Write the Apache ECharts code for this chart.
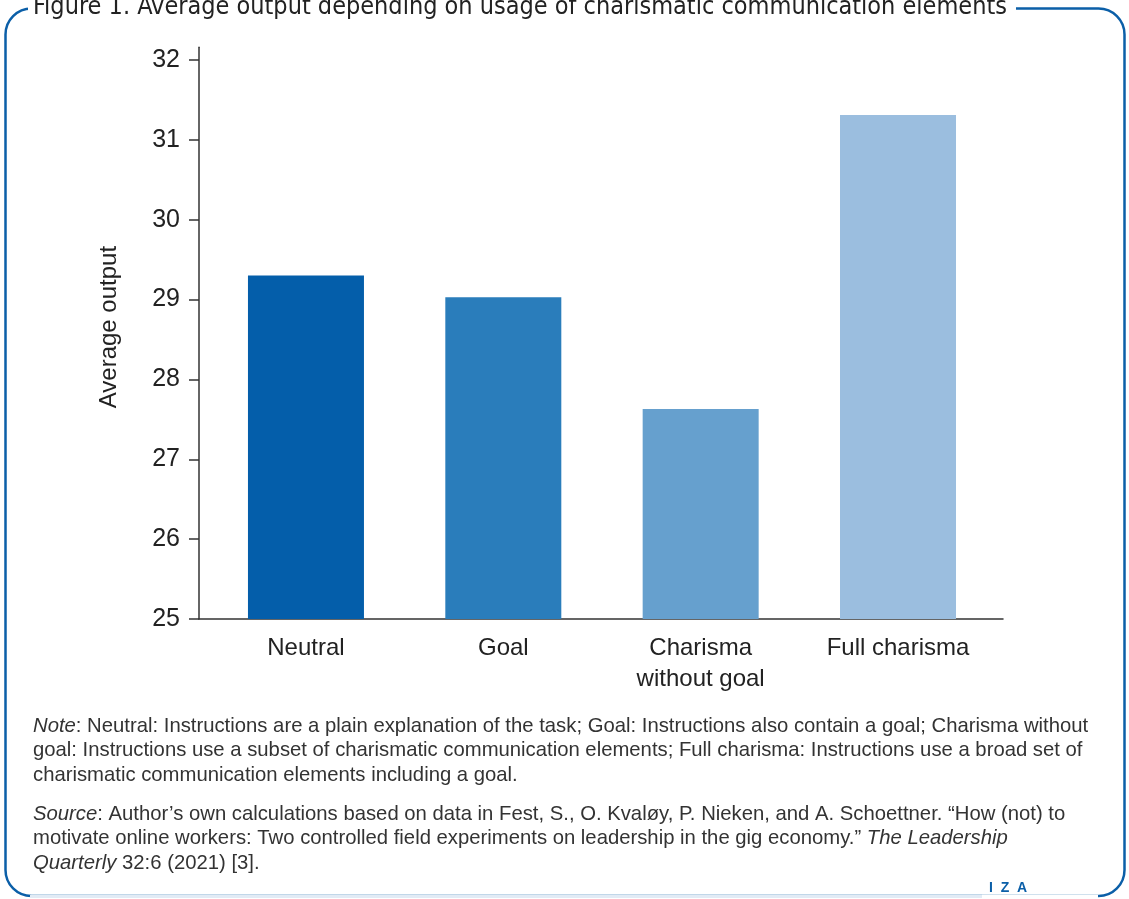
<!DOCTYPE html>
<html><head><meta charset="utf-8">
<script src="https://cdn.jsdelivr.net/npm/echarts@6/dist/echarts.min.js"></script>
<style>html,body{margin:0;padding:0;background:#fff}#c{width:1129px;height:899px}</style>
</head><body><div id="c"></div>
<script>
const categories = ['Neutral', 'Goal', 'Charisma\nwithout goal', 'Full charisma'];
const values = [29.30, 29.03, 27.63, 31.31];
const barColors = ['#045EAA', '#2A7DBB', '#66A0CE', '#9BBEDF'];
const yTicks = [25, 26, 27, 28, 29, 30, 31, 32];
const titleText = 'Figure 1. Average output depending on usage of charismatic communication elements';
const noteLines = [
  '{i|Note}: Neutral: Instructions are a plain explanation of the task; Goal: Instructions also contain a goal; Charisma without',
  'goal: Instructions use a subset of charismatic communication elements; Full charisma: Instructions use a broad set of',
  'charismatic communication elements including a goal.'
];
const sourceLines = [
  '{i|Source}: Author’s own calculations based on data in Fest, S., O. Kvaløy, P. Nieken, and A. Schoettner. “How (not) to',
  'motivate online workers: Two controlled field experiments on leadership in the gig economy.” {i|The Leadership}',
  '{i|Quarterly} 32:6 (2021) [3].'
];

const chart = echarts.init(document.getElementById('c'), null, {renderer: 'canvas'});
const bodyFont = '"Liberation Sans", Arial, sans-serif';
const blue = '#0B5FA8';
const txtStyle = (t, y) => ({
  type: 'text', left: 33, top: y, z: 10,
  style: {
    text: t, fill: '#333', font: '20.3px ' + bodyFont,
    rich: { i: { fontStyle: 'italic', fontSize: 20.3, fontFamily: bodyFont, fill: '#333' } }
  }
});
const graphics = [
  { type: 'rect', z: 1, shape: { x: 5.5, y: 8.5, width: 1119, height: 887.5, r: 26 }, style: { fill: 'none', stroke: blue, lineWidth: 2.5 } },
  { type: 'line', z: 2, shape: { x1: 30, y1: 896.5, x2: 982, y2: 896.5 }, style: { stroke: '#E2EBF5', lineWidth: 3 } },
  { type: 'line', z: 2, shape: { x1: 982, y1: 896.5, x2: 1098, y2: 896.5 }, style: { stroke: '#fff', lineWidth: 3.5 } },
  { type: 'text', left: 28, top: -5, z: 5, style: { text: titleText, font: '25px "Liberation Sans Narrow", "DejaVu Sans Condensed", sans-serif', fill: '#222', backgroundColor: '#fff', padding: [0, 9, 0, 5] } },
  { type: 'text', left: 989, top: 881, z: 5, style: { text: 'I  Z  A', font: 'bold 14px "Liberation Sans", Arial, sans-serif', fill: blue } }
];
noteLines.forEach((l, k) => graphics.push(txtStyle(l, 716 + k * 24.5)));
sourceLines.forEach((l, k) => graphics.push(txtStyle(l, 804 + k * 24.5)));

chart.setOption({
  animation: false,
  grid: { left: 199, right: 126, top: 47.2, bottom: 280, containLabel: false },
  xAxis: {
    type: 'value', min: -0.542, max: 3.532,
    splitLine: { show: false },
    axisLine: { show: true, onZero: false, lineStyle: { color: '#333', width: 1.5 } },
    axisTick: { show: false },
    axisLabel: {
      customValues: [0, 1, 2, 3], formatter: (v) => categories[Math.round(v)],
      fontSize: 24, color: '#222', fontFamily: bodyFont, margin: 14, lineHeight: 31
    }
  },
  yAxis: {
    type: 'value', min: 25, max: 32.16,
    name: 'Average output', nameLocation: 'middle', nameGap: 78,
    nameTextStyle: { fontSize: 24, color: '#222', fontFamily: bodyFont, padding: [0, 0, 0, 12] },
    splitLine: { show: false },
    axisLine: { show: true, onZero: false, lineStyle: { color: '#333', width: 1.5 } },
    axisTick: { show: true, inside: false, length: 10, lineStyle: { color: '#333', width: 1.5 }, customValues: yTicks },
    axisLabel: { fontSize: 25, color: '#222', fontFamily: bodyFont, margin: 19, customValues: yTicks }
  },
  series: [{
    type: 'bar', barWidth: 116,
    data: values.map((v, i) => ({ value: [i, v], itemStyle: { color: barColors[i] } }))
  }],
  graphic: graphics
});
</script></body></html>
